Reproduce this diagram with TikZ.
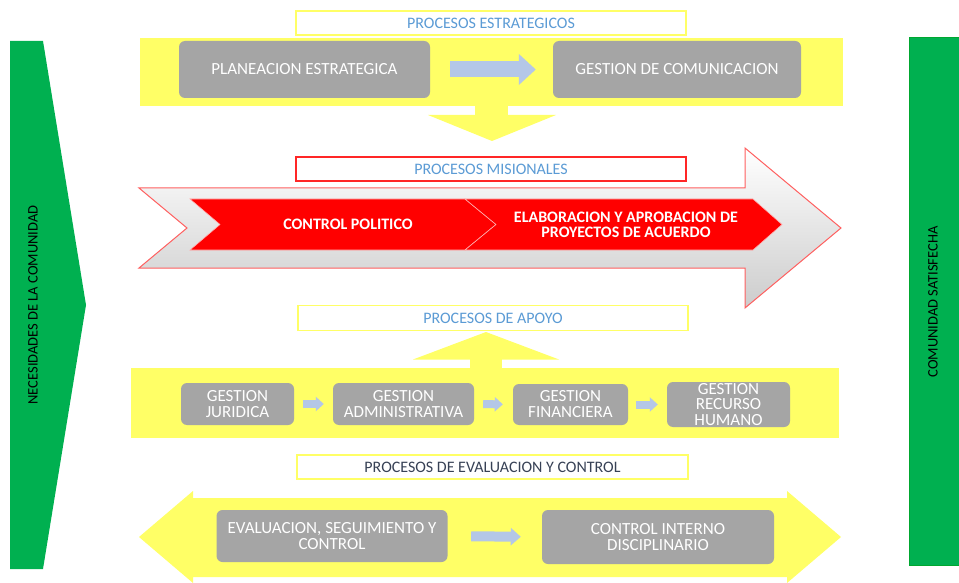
\documentclass[tikz,border=0pt]{standalone}
\usepackage{fontspec}
\setmainfont{Carlito}
\usetikzlibrary{arrows.meta}
\definecolor{ylw}{RGB}{255,255,102}
\definecolor{grn}{RGB}{0,176,80}
\definecolor{boxgray}{RGB}{165,165,165}
\definecolor{lblue}{RGB}{180,199,231}
\definecolor{tblue}{RGB}{91,155,213}
\definecolor{tdark}{RGB}{55,65,85}
\definecolor{redc}{RGB}{255,0,0}
\definecolor{redl}{RGB}{255,95,95}
\begin{document}
\begin{tikzpicture}[x=1pt,y=-1pt,
  graybox/.style={rounded corners=6pt, fill=boxgray, text=white, align=center, inner sep=0pt,
    font=\fontsize{17}{16}\selectfont},
  titlebox/.style={draw, line width=1.2pt, fill=white, inner sep=0pt, font=\fontsize{16}{18}\selectfont},
  bigarrow/.style={line width=16pt, lblue, -{Triangle[width=30pt,length=17pt]}},
  smallarrow/.style={line width=8pt, lblue, -{Triangle[width=14pt,length=8pt]}},
  midarrow/.style={line width=10pt, lblue, -{Triangle[width=17pt,length=10pt]}},
  sidetext/.style={rotate=90, text=black, font=\fontsize{14.5}{16}\selectfont, inner sep=0pt},
  redtext/.style={text=white, align=center, inner sep=0pt, font=\bfseries\fontsize{16}{15}\selectfont}
]
\useasboundingbox (0,0) rectangle (959,583);

% green side shapes
\fill[grn] (10,41) -- (43,41) -- (86,305) -- (43,569) -- (10,569) -- cycle;
\node[sidetext] (need) at (33,305) {NECESIDADES DE LA COMUNIDAD};
\filldraw[fill=grn, draw=green!60!black!40!grn, line width=0.6pt] (909,37) rectangle (962,565);
\node[sidetext] (sat) at (933,302) {COMUNIDAD SATISFECHA};

% strategic processes
\fill[ylw] (140,38) rectangle (843,106);
\fill[ylw] (475,105) rectangle (508,115.5);
\fill[ylw] (428,115) -- (556,115) -- (492,141) -- cycle;
\node[titlebox, draw=ylw, text=tblue, minimum width=390pt, minimum height=24pt] (tstrat) at (491,23) {PROCESOS ESTRATEGICOS};
\node[graybox, minimum width=251pt, minimum height=57pt] (plan) at (304.5,69.5) {PLANEACION ESTRATEGICA};
\node[graybox, minimum width=248pt, minimum height=57pt] (com) at (677,69.5) {GESTION DE COMUNICACION};
\draw[bigarrow, shorten <=20pt, shorten >=17pt] (plan.east) -- (com.west);

% mission processes
\node[titlebox, draw=redc!85, text=tblue, minimum width=390pt, minimum height=24pt] (tmis) at (491,169) {PROCESOS MISIONALES};
\path[draw=redl, line width=1pt, top color=white, middle color=white, bottom color=black!20]
  (139,188) -- (745,188) -- (745,148) -- (841,228) -- (745,308) -- (745,268) -- (139,268) -- (187,228) -- cycle;
\filldraw[fill=redc, draw=white!70!redc, line width=0.6pt]
  (190,199) -- (465,199) -- (496,224.5) -- (465,250) -- (190,250) -- (220,224.5) -- cycle;
\filldraw[fill=redc, draw=white!70!redc, line width=0.6pt]
  (465,199) -- (753,199) -- (782,224.5) -- (753,250) -- (465,250) -- (496,224.5) -- cycle;
\node[redtext] (cpol) at (348,224.5) {CONTROL POLITICO};
\node[redtext] (elab) at (626,224.5) {ELABORACION Y APROBACION DE\\PROYECTOS DE ACUERDO};

% support processes
\node[titlebox, draw=ylw, text=tblue, minimum width=390pt, minimum height=25pt] (tapo) at (493,318) {PROCESOS DE APOYO};
\fill[ylw] (413,359.5) -- (559,359.5) -- (486,332) -- cycle;
\fill[ylw] (470,359) rectangle (502,368.5);
\fill[ylw] (131,368) rectangle (839,438);
\node[graybox, minimum width=113pt, minimum height=42pt] (jur) at (237.5,404) {GESTION\\JURIDICA};
\node[graybox, minimum width=141pt, minimum height=42pt] (adm) at (403.5,404) {GESTION\\ADMINISTRATIVA};
\node[graybox, minimum width=115pt, minimum height=41pt] (fin) at (570.5,404.5) {GESTION\\FINANCIERA};
\node[graybox, minimum width=123pt, minimum height=45pt, font=\fontsize{17}{15.5}\selectfont] (rec) at (728.5,404.5) {GESTION\\RECURSO\\HUMANO};
\draw[smallarrow, shorten <=9pt, shorten >=9pt] (jur.east) -- (adm.west);
\draw[smallarrow, shorten <=9pt, shorten >=10pt] (adm.east) -- (fin.west);
\draw[smallarrow, shorten <=8pt, shorten >=9pt] (fin.east) -- (rec.west);

% evaluation and control
\node[titlebox, draw=ylw, text=tdark, minimum width=391pt, minimum height=24pt] (teval) at (492.5,467) {PROCESOS DE EVALUACION Y CONTROL};
\fill[ylw] (139,537) -- (193,491) -- (193,498) -- (787,498) -- (787,491) -- (841,537) -- (787,583) -- (787,577) -- (193,577) -- (193,583) -- cycle;
\node[graybox, minimum width=231pt, minimum height=52pt] (eval) at (332,536) {EVALUACION, SEGUIMIENTO Y\\CONTROL};
\node[graybox, minimum width=232pt, minimum height=54pt] (ci) at (658,537) {CONTROL INTERNO\\DISCIPLINARIO};
\draw[midarrow, shorten <=23.5pt, shorten >=21pt] (eval.east) -- (ci.west);
\end{tikzpicture}
\end{document}
